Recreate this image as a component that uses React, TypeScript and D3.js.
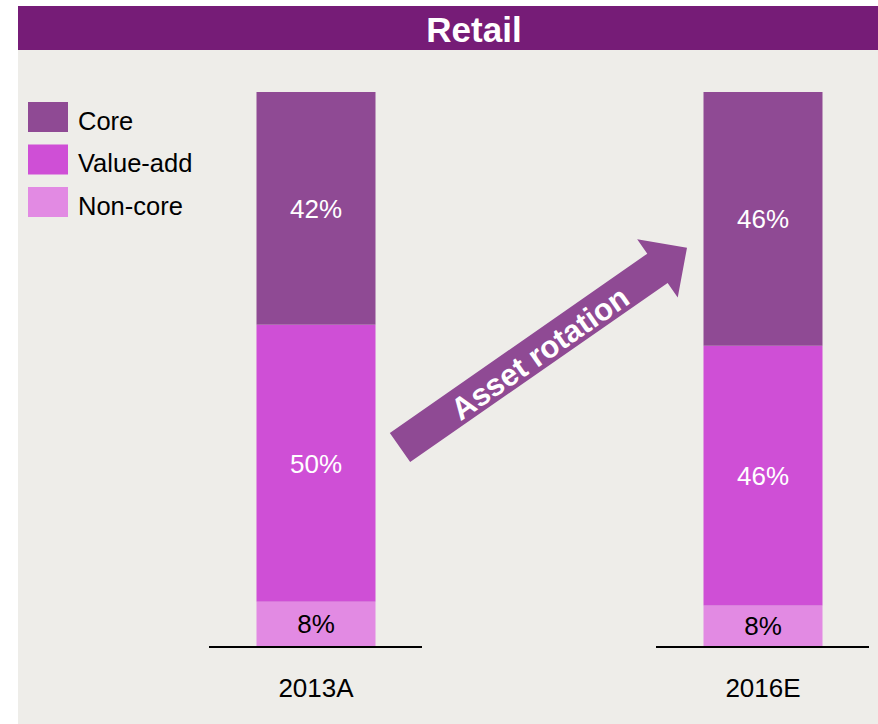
import React, { useEffect, useRef } from 'react';
import * as d3 from 'd3';

const categories = ['2013A', '2016E'];
const segments = ['Core', 'Value-add', 'Non-core'];
// shares per category, bottom segment last
const coreValues = [42, 45.8];
const valueAddValues = [50, 46.9];
const nonCoreValues = [8, 7.3];
const coreLabels = ['42%', '46%'];
const valueAddLabels = ['50%', '46%'];
const nonCoreLabels = ['8%', '8%'];

const colors = ['#8F4A94', '#CF4FD6', '#E28AE3'];
const labelColors = ['#ffffff', '#ffffff', '#000000'];

const App = () => {
  const ref = useRef<SVGSVGElement>(null);

  useEffect(() => {
    const width = 878, height = 724;
    const svg = d3.select(ref.current);
    svg.selectAll('*').remove();
    const font = 'Arial, "Liberation Sans", sans-serif';

    svg.append('rect').attr('x', 18).attr('y', 50).attr('width', width - 18).attr('height', height - 50).attr('fill', '#EEEDE9');
    svg.append('rect').attr('x', 18).attr('y', 6).attr('width', width - 18).attr('height', 44).attr('fill', '#761C77');
    svg.append('text')
      .attr('x', 474).attr('y', 41.5)
      .attr('text-anchor', 'middle')
      .attr('fill', '#fff')
      .attr('font-family', font)
      .attr('font-weight', 'bold')
      .attr('font-size', 35)
      .text('Retail');

    const x = d3.scalePoint<string>().domain(categories).range([316, 763]);
    const y = d3.scaleLinear().domain([0, 100]).range([646, 92]);
    const barW = 119;

    const values = [coreValues, valueAddValues, nonCoreValues];
    const labels = [coreLabels, valueAddLabels, nonCoreLabels];

    categories.forEach((c, i) => {
      // stack from the bottom: non-core, value-add, core
      let base = 0;
      for (let s = segments.length - 1; s >= 0; s--) {
        const v = values[s][i];
        const y0 = y(base), y1 = y(base + v);
        svg.append('rect')
          .attr('x', x(c)! - barW / 2).attr('y', y1)
          .attr('width', barW).attr('height', y0 - y1)
          .attr('fill', colors[s]);
        svg.append('text')
          .attr('x', x(c)!).attr('y', (y0 + y1) / 2)
          .attr('dy', '0.36em')
          .attr('text-anchor', 'middle')
          .attr('fill', labelColors[s])
          .attr('font-family', font)
          .attr('font-size', 26)
          .text(labels[s][i]);
        base += v;
      }
      svg.append('line')
        .attr('x1', x(c)! - 107).attr('x2', x(c)! + 106)
        .attr('y1', y(0) + 1).attr('y2', y(0) + 1)
        .attr('stroke', '#000').attr('stroke-width', 2);
      svg.append('text')
        .attr('x', x(c)!).attr('y', 697)
        .attr('text-anchor', 'middle')
        .attr('font-family', font)
        .attr('font-size', 26)
        .attr('fill', '#000')
        .text(c);
    });

    // legend
    const legend = svg.append('g').attr('transform', 'translate(28,102)');
    segments.forEach((s, i) => {
      legend.append('rect').attr('x', 0).attr('y', i * 42.5).attr('width', 40).attr('height', 30).attr('fill', colors[i]);
      legend.append('text')
        .attr('x', 50).attr('y', i * 42.5 + 27.5)
        .attr('font-family', font).attr('font-size', 25.5).attr('fill', '#000')
        .text(s);
    });

    // asset rotation arrow
    const tail: [number, number] = [400, 447.5];
    const tip: [number, number] = [687, 247.7];
    const len = Math.hypot(tip[0] - tail[0], tip[1] - tail[1]);
    const ang = Math.atan2(tip[1] - tail[1], tip[0] - tail[0]) * 180 / Math.PI;
    const hw = 17.8, headW = 35.5, headL = 36;
    const arrow = svg.append('g').attr('transform', `translate(${tail[0]},${tail[1]}) rotate(${ang})`);
    arrow.append('path')
      .attr('d', d3.line()([
        [0, -hw], [len - headL, -hw], [len - headL, -headW], [len, 0],
        [len - headL, headW], [len - headL, hw], [0, hw],
      ]) + 'Z')
      .attr('fill', colors[0]);
    arrow.append('text')
      .attr('x', (len - headL) / 2 + 12).attr('y', 2)
      .attr('dy', '0.36em')
      .attr('text-anchor', 'middle')
      .attr('fill', '#fff')
      .attr('font-family', font)
      .attr('font-weight', 'bold')
      .attr('font-size', 31)
      .text('Asset rotation');
  }, []);

  return (
    <div style={{ position: 'absolute', left: 0, top: 0 }}>
      <svg ref={ref} width={878} height={724} style={{ display: 'block' }}></svg>
    </div>
  );
};

export default App;
